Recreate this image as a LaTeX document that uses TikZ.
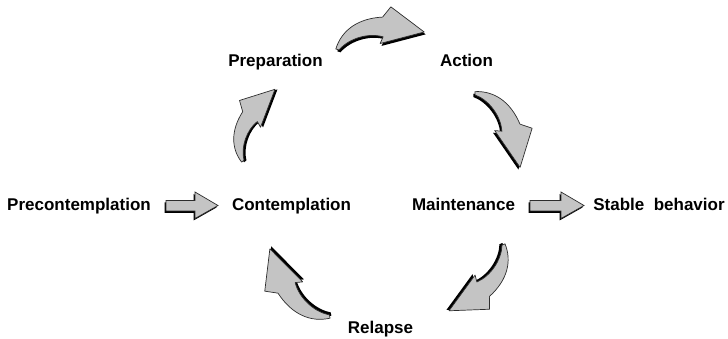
\documentclass[tikz,border=0pt]{standalone}
\usepackage{fontspec}
\setmainfont{Liberation Sans}
\definecolor{arrowfill}{RGB}{196,196,196}
\definecolor{arrowline}{RGB}{45,45,45}
\tikzset{
  lbl/.style={font=\bfseries\fontsize{17}{17}\selectfont, inner sep=0pt, anchor=base},
  cshape/.pic={
    \begin{scope}[shift={(1,2.6)}]
      \fill[black] (-45,0) .. controls (-36,-17) and (-18,-26) .. (7,-22.5) -- (17,-31) -- (45,0) -- (-0.5,3) -- (3.8,-3) .. controls (-10,-10) and (-30,-8) .. (-42,1.5) -- cycle;
    \end{scope}
    \filldraw[fill=arrowfill, draw=arrowline, line width=0.7pt, line join=round] (-45,0) .. controls (-36,-17) and (-18,-26) .. (7,-22.5) -- (17,-31) -- (45,0) -- (-0.5,3) -- (3.8,-3) .. controls (-10,-10) and (-30,-8) .. (-42,1.5) -- cycle;
  },
  sarrow/.style={fill=arrowfill, draw=arrowline, line width=0.7pt, line join=miter},
}
\begin{document}
\begin{tikzpicture}[x=1pt,y=-1pt]
  \useasboundingbox (0,0) rectangle (728,339);
  % labels
  \node[lbl] (prep) at (275.5,66.7) {Preparation};
  \node[lbl] (action) at (466.5,66.7) {Action};
  \node[lbl] (precon) at (79,210.7) {Precontemplation};
  \node[lbl] (contem) at (291.5,210.7) {Contemplation};
  \node[lbl] (maint) at (463.5,210.7) {Maintenance};
  \node[lbl] (stable) at (659,210.7) {Stable~~behavior};
  \node[lbl] (relapse) at (380.5,333.3) {Relapse};
  % curved arrows around the cycle
  \path (380,40.5) pic[rotate=10.9, scale=1.0] {cshape};
  \path (497.5,129.5) pic[rotate=-59.2, scale=0.98] {cshape};
  \path (477,277.3) pic[rotate=-129.9, scale=0.97] {cshape};
  \path (300,283.5) pic[rotate=131, scale=1.02] {cshape};
  \path (258.3,125.7) pic[rotate=65.4, scale=0.89] {cshape};
  % straight arrows
  \fill[black] (164.5,202.5) -- (193.5,202.5) -- (193.5,194) -- (216.5,207.5) -- (193.5,220.5) -- (193.5,213) -- (164.5,213) -- cycle;
  \draw[sarrow] (166,200.5) -- (195,200.5) -- (195,192) -- (218,205.5) -- (195,218.5) -- (195,211) -- (166,211) -- cycle;
  \fill[black] (528.5,202.5) -- (559.5,202.5) -- (559.5,194) -- (582.5,207.5) -- (559.5,220.5) -- (559.5,213) -- (528.5,213) -- cycle;
  \draw[sarrow] (530,200.5) -- (561,200.5) -- (561,192) -- (584,205.5) -- (561,218.5) -- (561,211) -- (530,211) -- cycle;
\end{tikzpicture}
\end{document}
